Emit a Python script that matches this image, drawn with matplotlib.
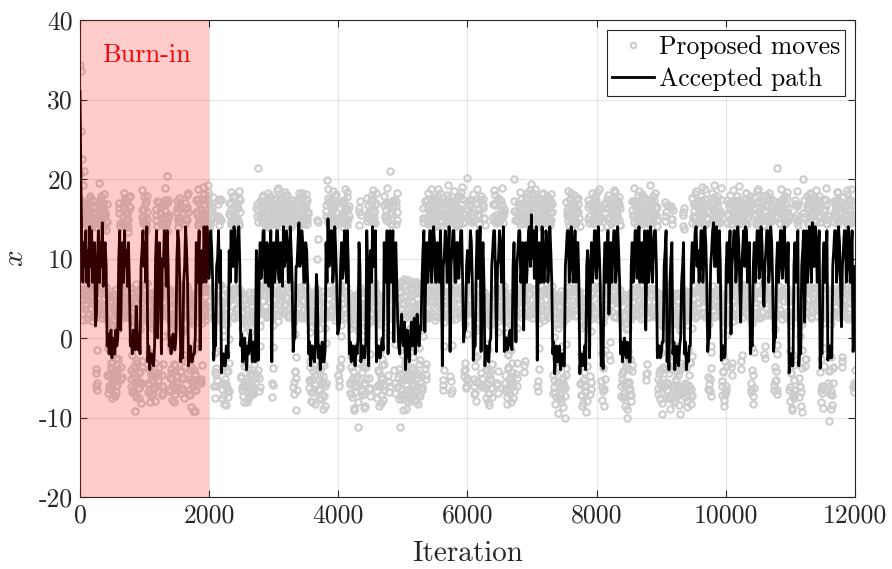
import numpy as np
import matplotlib
matplotlib.use("Agg")
import matplotlib.pyplot as plt
from matplotlib.ticker import FuncFormatter

plt.rcParams['font.family'] = ['cmr10', 'DejaVu Serif']
plt.rcParams['mathtext.fontset'] = 'cm'
plt.rcParams['axes.unicode_minus'] = False

# ---------------- data ----------------
path_step = 15      # iterations between accepted-path samples
prop_step = 10      # iterations between proposals in each proposal list

accepted_path = [
    31, 19, 11, 7, 12, 9, 13.5, 7, 11, 6.5, 14, 9, 13.5, 7, 10, 12, 1.5, 3, 10, 13.5,
    7, 12, 9, 14.5, 6.5, 11, 12, 9, -1, 0.5, -2, -0.5, 1, -2.5, 0, -1.5, -2, 1, -1, 0,
    10, 13.5, 1, 9, 12, 7, 13.5, 9, 11, 6.5, 12, 7, -1, 0, -2, 1, 0, -1.5, 4, 1,
    -1.5, 0.5, -2, 9, 11, 13.5, 9, 12, 7, 14, -3, -1, -4, -2, -2, -3, -3.5, -1, 10, 13.5,
    0, 9, 12, 7.5, -2, 10, 9, 13.5, 11, 6.5, 13.5, 9, -1, 0, -2, -0.5, 0.5, -1, -1.5, 0,
    10, 13.5, 12, 7, -3, -1, -2.5, 7, 9, 14, 11, 7, -3.5, -1.5, -1, -3, -3, -2, -2, 0,
    12, 7, 10, 13.5, -1.5, 9, 11, 7, 14, 9, 7, 14, 12, 7.5, 9, 13.5, 11, 7, -2.8, -1,
    -1, 9, 10, 13.5, 7, 11, -4.4, -2, -2, -3.5, -3.5, -1, -1, -2.5, 11, 7, 13.5, 9, 9, 14,
    12, 7, 10, 13.5, 14, 9, -1, 0.5, -3, -1, 0, -2.5, -4, -1, -2, 0, 1, -1.5, -3, -0.5,
    -1.5, -3, 11, 7, -2.8, 9, 12, 7.5, 9, 13.5, 13.5, 7, 7, 12, 11, 6.5, 10, 13.5, -3, 9,
    12, 7, 9, 13.5, 13.5, 7.5, 7, 12, 11, 6.5, 14, 9, 10, 13.5, 12, 7, 7, 14, 11, 7,
    -1.7, 0, 0, 9, 9, 12, 14.5, 9, 10, 13.5, 12, 7, 7, 12, 11, 7, -2, -0.5, -3.5, -1,
    -1, -2.5, -3, -1, 8, 6, -2.5, -1, -4, -2, -0.5, -3, -3, -1.5, 12, 7, 15, 9, 10, 13.5,
    13.5, 7, 9, 14, 11, 7, 0.5, 1, 2, 9, 12, 7.5, 9, 13.5, 11, 7, 13.5, 9, -2, -0.5,
    -3, -1, -1, -2.5, -3.5, -1, -2, 0, 12, 9, -3, -1, -1, -2.5, -2.5, -0.5, 13.5, 9, -3.5, 9,
    11, 7, 14, 9, 10, 13.5, -3, -1, -1, -2.5, -2.5, -1, 0, -1.5, 12, 7, 9, 13.5, -2, 9,
    13.5, 7, 10, 13.5, -0.5, 9, 12, 7, 2, -1, -2, 1, 3, 0, -1, 2, -4, -1, 1, -2,
    -3, 0, 2, -1, 0, 2.5, -2, 0, 3, 1, -1, 1.5, 1, 7, 11, 13.5, 0.8, 9, 12, 7,
    9, 13.5, 13.5, 7, 10, 14, 12, 7, 7, 12, 11, 7, 13.5, 9, -3.5, 9, 10, 13.5, 12, 7,
    9, 14, -1.7, 9, 11, 13.5, 13.5, 7, 7, 12, 12, 7.5, 10, 13.5, 13.5, 7, -0.5, 1, 1, 9,
    11, 7, 9, 13.5, 12, 7, -2.8, -1, -1, 9, 13.5, 7.5, 10, 14, -1.7, 9, 12, 7, -3.5, -1,
    -1, -2.5, -3, -0.5, 0, 9, 11, 13.5, 13.5, 7, -1.7, 9, 10, 13.5, 12, 7, 9, 14, -1.7, 0,
    0, -1.5, -1, 0.5, 1, -1, -1.5, 9, 12, 7, -0.5, 9, 11, 13.5, 13.5, 7, 9, 12, 1, 9,
    12, 7, 10, 13.5, 14, 9, 15.5, 10, 13.5, 7.5, 9, 14, -2.8, 9, 12, 7, 7, 14, 11, 7,
    10, 13.5, 12, 7, 9, 14, 11, 7, -2, -0.5, -4.5, -2, -1, -3, -3, -1, -4, -2, -2, -3.5,
    -3.5, 9, 11, 13.5, 13.5, 7, 9, 14, 12, 7, 10, 13.5, 7, 12, 12, 7, -4.5, -2, -2, -3.5,
    -3, -1, -4, 9, 11, 7, -2.5, 9, 12, 7, 9, 13.5, 13.5, 7.5, 10, 14, 11, 7, -3.5, -1,
    -3.9, 9, 12, 7, 9, 13.5, 3, 9, 12, 7, 10, 13.5, 13.5, 7, 9, 14, 11, 7, -2, -0.5,
    -3, -1, 0, -2, -2.5, -0.5, -1, -3, -3, 9, 12, 7, 9, 13.5, 13.5, 7.5, 11, 14, 7, 11,
    12, 7, 10, 13.5, 1, 9, 13.5, 7, 9, 14, 12, 7, 11, 13.5, 13.5, 9, -2.5, -1, -1, -2.5,
    -2, -0.5, -0.5, 9, 11, 13.5, -3, -1, -4, 7, 10, 12, -2, -0.5, -4, -2, -1, -3, -3.5, -1,
    0, 7, 9, 12, -2, -0.5, -4, -2, -3, -1, -1, 9, 12, 7, 10, 13.5, 14, 9, 11, 7,
    9, 13.5, 13.5, 7, 10, 14, 12, 7, -1.7, 0, 0, 9, 11, 13.5, 14.5, 9, 9, 14, 12, 7,
    13.5, 9, -2.8, -1, -1, -2.5, -2, 9, 12, 7, 10, 13.5, 0.5, 9, 11, 13.5, 13.5, 7, 9, 14,
    12, 7, 2, 9, 11, 13.5, 9, 14, 13.5, 7, 10, 12, -2, -0.5, -1, 9, 12, 7, 10, 13.5,
    13.5, 7.5, 9, 14, 12, 7, 4, 9, 11, 13.5, 13.5, 7, 9, 14, 12, 7, -1.7, 0, 0, 9,
    12, 7, 9, 13.5, 13.5, 7.5, 10, 14, 11, 7, 7, 12, -4.4, -2, -2, -3.5, -3.5, 9, 12, 7,
    10, 13.5, -3.5, -1, -2, 9, 11, 13.5, 2, 9, 13.5, 7, 10, 14, 12, 7, 14.5, 9, 9, 14,
    12, 7, 10, 13.5, -3.8, -1.5, -2, 9, 12, 7, 9, 13.5, -2.8, -1, -1, -2.5, -2.5, 9, 11, 13.5,
    13.5, 7, 9, 14, 12, 7, 1.4, 9, 11, 13.5, 13.5, 7, 9, 14, 12, 7, 10, 13.5, -1.7, 0,
    9,
]

# proposals at iterations 0, 10, 20, ...
proposed_moves_a = [
    34.3, 33.6, 26.0, 22.5, 19.3, 4.8, 21.0, 15.8, 3.6, 16.7, 5.2, 14.3, 14.6, 3.1, 17.2,
    17.9, 6.4, 13.9, 15.1, 4.4, 2.9, 16.3, 2.7, 14.9, 4.5, -3.9, -5.6, 13.8, 5.9, 16.0,
    19.5, 3.8, 15.4, 14.2, 6.6, 17.0, 16.8, 4.9, 3.5, 15.5, 2.8, 13.6, 3.9, -4.8, -1.2,
    2.2, -6.3, 5.1, 4.7, -5.5, -3.0, 1.6, -7.2, 3.4, 5.3, -4.1, -6.0, 3.0, -5.9, 1.1,
    15.7, 5.4, 14.5, 4.2, -3.6, 2.5, 16.6, 3.4, 18.3, 14.0, 6.1, 15.9, 17.4, 4.0, 13.3,
    15.0, 2.6, 16.5, 3.3, -5.1, -2.2, 5.6, -6.6, 0.8, 2.0, -9.2, 4.3, 6.8, -3.2, 1.9,
    3.7, -7.5, -4.4, 4.9, -5.8, 2.7, 18.6, 5.0, 14.7, 15.3, 3.9, 16.9, 13.6, 6.9, 17.8,
    2.8, -6.8, -1.7, 4.0, -8.1, 1.4, 1.3, -5.3, -7.0, 3.6, -6.4, 5.8, 16.2, 4.6, 14.1,
    5.2, -4.6, 2.3, 17.1, 3.2, 15.6, 3.1, -6.1, -3.3, 14.4, 5.6, 18.9, 16.0, 2.9, 13.5,
    20.4, 6.2, 15.1, 4.4, -5.0, 0.6, 2.5, -7.8, 3.8, 5.9, -4.3, -6.2, 1.8, -5.7, 2.9,
    15.8, 4.2, 14.0, 17.6, 6.7, 16.4, 3.5, -6.9, -2.6, 4.8, -4.9, 1.0, 14.3, 3.0, 16.2,
    16.5, 5.3, 18.2, 2.6, -7.0, -4.0, 5.0, -5.4, 3.2, 3.8, -9.2, -1.4, 4.1, -6.5, 2.0,
    17.3, 4.5, 15.2, 18.8, 2.7, 14.6, 3.4, -5.2, 4.6, 16.1, 5.8, 19.0, 18.1, 3.6, 15.7,
    14.9, 6.0, 17.5, 19.2, 4.7, 13.8, 16.7, 3.3, 15.0, 15.4, 5.5, 17.7, 3.0, -6.0, -1.9,
    5.4, -4.7, 2.4, 16.9, 3.7, 14.2, 15.2, 6.5, 17.4, 2.3, -7.6, 0.3, 4.6, -5.6, -3.6,
    3.2, -8.4, 1.7, 5.7, -4.2, -6.7, 17.0, 4.8, 15.5, 18.4, 2.8, 14.8, 15.9, 6.3, 16.6,
    17.8, 3.5, 14.0, 14.7, 5.1, 16.3, 18.5, 4.3, 15.8, 4.3, -5.0, 1.2, 2.7, -7.3, -2.9,
    5.1, -6.0, 3.6, 3.6, -8.0, -0.9, 1.9, -5.4, 4.7, 4.9, -7.1, -4.5, 3.3, -6.2, 2.1,
    5.8, -4.4, -2.0, 16.4, 5.2, 21.4, 3.9, -6.7, 1.5, 17.2, 3.1, 15.3, 15.6, 6.6, 18.0,
    16.8, 4.0, 14.5, 14.1, 2.6, 17.3, 18.2, 5.7, 15.9, 15.0, 3.8, 16.7, 4.0, -7.4, -1.1,
    17.5, 4.9, 14.3, 16.0, 2.9, 18.6, 18.9, 6.1, 15.4, 14.6, 3.4, 16.8, 17.7, 5.3, 14.9,
    16.2, 4.1, 18.4, 15.3, 6.8, 17.1, 18.0, 3.0, 15.0, 16.6, 5.6, 13.9, 17.4, 4.4, 16.3,
    3.7, -5.5, 2.2, 5.2, -9.0, -2.4, 16.5, 3.6, 14.7, 18.3, 6.4, 17.6, 15.1, 4.7, 16.0,
    17.9, 2.8, 14.4, 16.3, 5.4, 18.1, 14.8, 3.9, 15.6, 4.5, -6.3, 0.7, 2.9, -7.9, 3.5,
    5.5, -5.1, -3.4, 3.4, -8.3, 1.8, 6.0, 4.8, 12.5, 4.2, -6.6, -1.6, 2.4, -7.7, 2.6,
    5.0, -5.8, -4.8, 3.8, -8.6, 1.3, 16.7, 4.2, 19.9, 18.7, 5.9, 15.2, 17.3, 3.3, 16.9,
    15.8, 6.2, 18.5, 16.9, 4.6, 14.6, 18.1, 2.7, 15.7, 4.7, -4.6, 2.8, 5.9, -3.8, 0.2,
    17.0, 5.0, 15.5, 15.4, 3.7, 18.8, 16.4, 6.5, 14.2, 18.4, 4.3, 16.6, 3.1, -6.9, -2.3,
    4.8, -5.3, 1.6, 2.6, -8.8, 3.9, 5.3, -6.1, -5.0, 3.5, -11.2, 0.9, 15.9, 5.8, 17.2,
    4.1, -7.2, -1.8, 2.2, -5.7, 3.1, 5.6, -8.5, -3.1, 17.6, 4.0, 15.1, 3.6, -6.4, 2.0,
    16.8, 3.2, 18.0, 18.6, 5.5, 15.8, 15.2, 6.9, 17.0, 4.4, -7.5, -0.5, 2.8, -5.9, 3.3,
    5.1, -8.2, -2.7, 3.9, -6.0, 1.4, 17.8, 4.5, 15.3, 16.1, 2.9, 18.9, 4.6, -6.8, 0.4,
    21.0, 5.3, 15.9, 17.2, 3.5, 16.5, 5.0, -5.6, 2.7, 16.6, 6.3, 18.2, 6.5, -4.9, 3.0,
    5.8, -11.2, 1.9, 7.2, -6.4, -2.1, 4.3, -7.0, 5.4, 2.5, -8.9, -3.8, 6.1, -5.2, 1.1,
    3.7, -7.8, -4.6, 7.0, -5.0, 2.5, 5.4, -6.7, -1.3, 2.9, -8.1, 4.1, 6.8, -4.5, 0.5,
    4.0, -7.3, -2.8, 5.7, -6.2, 3.7, 16.3, 4.9, 15.0, 4.9, -4.7, 6.5, 17.4, 3.1, 18.3,
    15.5, 5.7, 16.1, 18.8, 4.2, 14.7, 16.0, 6.6, 17.5, 17.7, 2.8, 15.4, 15.0, 5.1, 18.7,
    16.9, 3.9, 14.1, 18.2, 6.0, 16.4, 4.1, -6.5, -1.0, 17.1, 4.7, 15.7, 15.7, 3.0, 18.0,
    19.3, 5.9, 16.2, 3.5, -5.4, 2.3, 16.6, 4.4, 14.9, 18.5, 6.4, 17.2, 15.3, 3.4, 16.0,
    17.9, 5.2, 14.4, 16.2, 2.7, 18.4, 19.0, 4.8, 15.6, 4.6, -4.8, 1.7, 5.7, -6.1, 3.2,
    20.1, 3.6, 16.8, 17.3, 5.5, 14.6, 15.8, 6.7, 18.1, 3.2, -7.1, -2.5, 4.8, -5.5, 1.0,
    18.7, 4.1, 15.3, 16.4, 3.0, 17.4, 4.3, -6.2, 2.6, 17.5, 5.8, 15.1, 2.7, -7.6, -0.8,
    5.2, -5.8, 3.6, 3.6, -8.4, -4.1, 4.5, -6.3, 1.9, 16.8, 4.6, 18.6, 18.0, 2.9, 15.5,
    4.0, -5.9, 2.1, 17.6, 6.1, 14.8, 15.4, 3.7, 16.7, 18.9, 5.0, 15.9, 3.8, -6.6, 0.6,
    5.5, -7.4, -2.2, 2.9, -5.2, 4.4, 4.7, -8.0, -1.5, 3.3, -6.0, 2.8, 20.0, 4.3, 16.0,
    5.0, -5.0, 1.3, 17.0, 5.4, 15.2, 18.4, 3.2, 16.9, 15.6, 6.5, 14.5, 4.9, -4.3, 6.2,
    17.7, 4.8, 18.3, 16.1, 2.8, 15.4, 18.6, 5.6, 17.0, 19.4, 3.9, 16.3, 17.2, 6.2, 18.8,
    15.9, 4.5, 14.0, 3.7, -6.7, -1.2, 17.4, 5.3, 16.5, 16.0, 3.5, 18.1, 18.3, 6.0, 15.0,
    15.2, 4.0, 17.3, 17.9, 2.7, 16.2, 16.7, 5.7, 14.6, 18.1, 4.6, 15.8, 4.2, -6.9, 0.1,
    2.6, -8.3, 3.4, 5.3, -5.6, -3.7, 3.9, -7.7, 1.8, 4.6, -6.2, -5.1, 2.8, -8.7, 2.4,
    5.1, -10.0, -0.7, 17.1, 4.9, 15.6, 18.5, 3.3, 16.8, 15.7, 6.3, 18.2, 16.9, 4.2, 14.3,
    18.0, 2.9, 15.9, 16.4, 5.8, 17.5, 17.6, 4.4, 15.1, 3.4, -7.2, -2.0, 5.0, -8.5, 1.6,
    2.7, -6.0, 3.8, 4.4, -9.3, -3.5, 17.3, 5.1, 15.4, 3.6, -7.0, 0.9, 18.2, 4.0, 16.6,
    16.0, 6.6, 14.8, 17.8, 3.1, 18.4, 15.5, 5.5, 16.1, 18.7, 4.7, 15.2, 4.1, -7.8, -1.9,
    2.5, -6.4, 2.7, 17.0, 5.9, 16.3, 16.5, 3.4, 18.0, 6.3, -2.8, 4.8, 17.5, 4.3, 15.7,
    16.2, 6.1, 18.6, 18.4, 2.8, 15.0, 15.8, 5.2, 17.1, 17.7, 4.5, 16.4, 3.3, -7.3, -0.4,
    5.2, -5.7, 2.9, 2.9, -8.6, -3.2, 4.7, -10.0, 1.2, 3.8, -6.5, -2.6, 5.6, -7.9, 3.5,
    17.2, 4.6, 15.5, 18.9, 3.0, 16.7, 16.3, 6.4, 14.2, 17.9, 4.9, 18.5, 15.4, 3.6, 16.0,
    18.1, 5.8, 15.3, 16.6, 4.1, 17.6, 5.1, -5.3, 3.9, 17.4, 6.0, 15.8, 19.3, 3.2, 16.9,
    16.1, 5.4, 14.6, 17.8, 4.4, 18.2, 15.6, 2.7, 16.5, 4.0, -7.0, -1.4, 5.4, -5.5, 2.3,
    3.1, -8.2, -3.9, 4.9, -6.1, 1.5, 17.1, 5.6, 15.9, 3.7, -7.6, -0.2, 2.4, -8.9, 3.1,
    16.4, 4.7, 14.4, 5.0, -6.3, -2.4, 3.2, -7.8, 2.0, 4.6, -5.9, -4.7, 2.8, -8.4, 1.0,
    5.3, -6.6, 3.3, 15.8, 4.0, 13.7, 3.5, -7.4, -1.7, 4.8, -8.7, 2.6, 2.6, -6.0, -3.0,
    5.5, -7.1, 1.3, 17.6, 4.9, 15.4, 16.0, 3.3, 18.1, 18.5, 6.2, 16.6, 17.2, 4.4, 14.9,
    15.9, 5.7, 17.8, 19.0, 3.0, 15.5, 16.7, 4.6, 18.7, 17.5, 6.5, 15.1, 4.3, -6.4, 1.8,
    5.8, -5.1, -1.0, 18.3, 4.1, 16.2, 19.3, 5.3, 15.7, 16.2, 2.9, 17.3, 17.9, 6.0, 14.5,
    15.6, 4.7, 18.9, 3.6, -7.2, -2.3, 5.1, -8.5, 2.2, 2.9, -6.1, 0.4, 17.3, 5.0, 15.3,
    16.5, 3.6, 18.0, 5.6, -4.6, 3.0, 18.6, 4.8, 16.4, 16.1, 6.3, 15.0, 17.8, 3.2, 17.4,
    19.1, 5.5, 15.8, 6.0, -3.9, 4.5, 17.0, 4.2, 16.9, 15.7, 6.7, 18.3, 18.2, 3.4, 15.2,
    16.6, 5.1, 17.0, 3.9, -6.8, -1.3, 5.2, -8.3, 2.5, 17.7, 4.5, 15.6, 16.3, 2.8, 18.5,
    18.8, 5.9, 16.1, 15.5, 4.0, 14.7, 17.4, 6.4, 17.9, 6.6, -2.5, 5.2, 18.0, 4.9, 15.4,
    16.8, 3.1, 18.2, 17.6, 5.6, 16.0, 15.9, 4.3, 17.3, 4.1, -6.6, 1.1, 5.7, -5.3, -2.0,
    21.4, 5.2, 16.7, 17.1, 3.5, 15.1, 18.7, 6.1, 17.6, 16.4, 4.6, 15.9, 17.9, 2.9, 18.4,
    15.8, 5.4, 16.3, 3.0, -7.9, -1.6, 4.6, -8.8, 2.8, 2.7, -6.5, -3.4, 17.3, 4.8, 15.5,
    18.5, 3.7, 16.8, 4.4, -7.4, 0.3, 5.3, -8.6, 2.1, 20.0, 5.7, 15.2, 6.1, -3.5, 4.2,
    17.8, 4.1, 16.5, 16.2, 6.0, 18.1, 18.3, 3.3, 15.7, 17.0, 5.0, 17.4, 15.6, 4.5, 16.0,
    18.6, 2.8, 15.3, 16.9, 5.8, 17.9, 3.4, -8.1, -2.7, 5.0, -6.3, 1.9, 17.5, 4.3, 16.2,
    18.9, 6.2, 15.0, 3.8, -10.5, -1.1, 5.5, -7.0, 2.6, 2.9, -8.4, -3.8, 17.2, 4.7, 15.8,
    16.0, 3.0, 18.4, 18.4, 5.5, 16.6, 15.7, 6.4, 17.1, 5.9, -3.6, 4.0, 17.7, 4.2, 15.4,
    16.5, 2.7, 18.6, 18.1, 5.3, 16.0, 17.4, 3.8, 15.1, 18.8, 6.1, 17.2, 4.2, -5.7, -5.9,
]

# proposals at iterations 5, 15, 25, ...
proposed_moves_b = [
    20.8, 16.1, 5.0, 17.0, 3.2, 14.5, 14.9, 6.0, 16.3, 16.1, 2.4, 15.0, 13.9, 4.8, 17.6,
    15.5, 3.6, 6.9, 17.3, 5.9, 14.2, 14.5, 2.9, 16.6, 2.6, -6.1, -1.5, 16.9, 4.2, 15.3,
    14.4, 6.3, 17.8, 16.0, 3.0, 13.8, 18.1, 5.0, 15.7, 14.7, 2.5, 16.8, 5.5, -6.9, 2.0,
    3.1, -4.5, -3.2, 4.4, -7.6, 0.9, 2.1, -5.1, 4.0, 6.0, -6.8, -2.5, 1.4, -3.9, 3.6,
    16.4, 3.9, 14.1, 5.8, -4.9, 3.0, 14.3, 5.2, 17.1, 17.6, 2.8, 15.6, 15.0, 6.5, 14.0,
    16.6, 4.3, 17.9, 4.6, -6.2, -0.3, 2.4, -4.4, 3.9, 5.3, -7.0, -2.8, 3.4, -5.5, 5.6,
    6.1, -6.3, 1.1, 2.0, -8.2, -3.6, 15.2, 3.5, 16.2, 17.7, 6.2, 14.4, 14.2, 2.7, 15.8,
    4.9, -5.9, 1.7, 2.5, -7.3, -2.1, 5.7, -4.8, 3.3, 3.0, -7.9, -4.9, 14.8, 5.6, 17.2,
    2.7, -6.0, 4.8, 15.9, 4.9, 14.6, 5.1, -7.2, 0.2, 16.7, 3.4, 13.9, 14.4, 6.4, 17.0,
    17.4, 2.6, 15.5, 3.2, -6.7, -1.3, 5.6, -5.0, 2.8, 2.3, -8.0, -3.4, 4.3, -6.6, 1.5,
    17.2, 5.3, 15.1, 14.6, 2.9, 16.9, 5.0, -5.2, 0.8, 2.8, -7.6, -2.2, 16.2, 4.5, 14.8,
    18.0, 6.0, 15.9, 4.7, -6.5, 2.2, 2.1, -8.7, -1.8, 5.4, -5.4, 3.7, 3.5, -9.2, -0.6,
    15.6, 3.1, 14.3, 17.0, 5.7, 16.4, 5.9, -5.6, 1.9, 14.9, 2.8, 17.5, 16.8, 6.3, 15.2,
    15.3, 4.0, 18.4, 17.8, 3.3, 14.7, 14.5, 5.9, 16.0, 16.3, 2.5, 15.1, 4.8, -7.5, 2.4,
    2.6, -5.3, -1.6, 15.4, 4.9, 17.3, 17.5, 3.0, 14.9, 4.1, -6.4, 1.0, 6.2, -8.3, -2.4,
    2.9, -5.8, 3.8, 4.5, -7.4, -0.1, 16.0, 5.4, 14.5, 14.7, 2.7, 17.7, 17.9, 6.1, 15.4,
    15.1, 3.8, 16.3, 16.9, 5.1, 14.2, 14.3, 2.6, 17.4, 5.6, -6.2, 2.5, 3.3, -8.1, -1.5,
    4.9, -5.1, 4.2, 2.2, -7.7, -3.9, 5.8, -6.4, 0.7, 3.1, -4.6, 2.9, 4.6, -7.0, -2.6,
    2.5, -5.7, 3.6, 15.3, 4.5, 16.1, 5.4, -5.0, -1.0, 16.5, 6.2, 14.7, 17.7, 3.4, 15.6,
    14.6, 5.5, 16.9, 16.2, 2.8, 13.9, 15.0, 4.7, 17.8, 17.2, 6.6, 14.8, 3.0, -5.9, 1.6,
    15.7, 3.6, 16.5, 14.2, 5.8, 17.6, 16.8, 2.9, 15.0, 17.5, 4.6, 14.1, 15.2, 6.3, 16.7,
    16.4, 3.1, 18.0, 14.8, 5.2, 15.5, 17.1, 2.6, 16.2, 15.5, 4.3, 14.4, 16.0, 6.7, 17.3,
    5.1, -7.1, 0.5, 2.9, -5.0, 3.2, 17.4, 5.0, 15.3, 15.8, 2.7, 16.6, 14.4, 6.0, 18.2,
    16.6, 3.7, 14.9, 15.1, 5.6, 17.0, 17.3, 4.1, 15.8, 2.4, -5.4, -2.9, 4.7, -8.0, 1.4,
    3.0, -6.8, 4.3, 5.4, -4.7, -1.9, 9.9, 5.2, 14.6, 2.7, -7.5, 1.2, 4.5, -5.6, -3.1,
    3.3, -8.9, 2.7, 5.9, -6.1, -0.6, 15.3, 3.2, 17.1, 17.6, 5.7, 14.3, 14.6, 2.8, 16.4,
    16.9, 6.2, 15.2, 15.2, 4.0, 17.9, 17.0, 3.5, 14.8, 3.9, -5.3, 6.4, 6.8, -2.6, 1.6,
    15.6, 4.4, 14.0, 17.3, 2.6, 16.1, 14.5, 5.9, 17.7, 16.2, 3.3, 15.4, 5.2, -5.8, 1.3,
    2.3, -7.4, -2.2, 4.8, -9.0, 3.0, 3.4, -6.0, -1.0, 5.5, -8.1, 2.4, 14.2, 4.1, 15.5,
    2.9, -6.7, 0.3, 5.0, -8.8, -3.5, 3.6, -5.1, 2.6, 15.4, 5.3, 16.7, 4.9, -7.3, -2.0,
    17.5, 3.9, 14.6, 14.9, 6.4, 16.0, 16.7, 2.7, 18.3, 5.7, -6.1, 1.8, 3.2, -8.6, -1.7,
    4.4, -4.9, 3.4, 2.6, -7.8, -3.3, 15.2, 3.4, 17.0, 17.1, 5.9, 14.7, 3.1, -5.5, 2.9,
    15.8, 4.4, 16.6, 14.3, 2.9, 17.4, 5.6, -6.9, -0.7, 17.2, 4.9, 14.9, 4.2, -7.7, 5.9,
    6.6, -5.5, -1.1, 3.6, -9.1, 2.3, 7.4, -4.2, -3.3, 5.1, -6.6, 4.6, 2.8, -8.0, -0.4,
    6.3, -5.1, 3.1, 4.5, -7.2, -2.4, 7.0, -4.6, 1.6, 3.1, -6.9, 5.0, 5.9, -8.3, -1.2,
    4.2, -5.7, 2.4, 6.4, -6.5, 0.3, 15.1, 3.3, 17.2, 6.9, -3.3, 2.6, 16.3, 5.1, 14.4,
    14.6, 2.8, 17.0, 17.4, 6.0, 15.7, 15.0, 3.9, 16.4, 16.6, 5.3, 14.1, 14.2, 2.6, 17.8,
    17.1, 4.6, 15.4, 15.7, 6.5, 16.8, 5.3, -5.3, 2.0, 16.8, 3.6, 14.7, 14.5, 5.8, 17.2,
    17.6, 2.7, 15.6, 5.7, -6.9, -0.9, 15.4, 4.8, 16.4, 16.9, 3.1, 14.3, 14.1, 6.2, 17.6,
    16.4, 4.4, 15.0, 17.8, 5.7, 16.9, 15.1, 2.9, 14.5, 6.1, -3.9, 3.1, 3.9, -5.3, 0.5,
    16.2, 4.0, 14.8, 14.7, 6.3, 17.3, 17.4, 3.2, 15.5, 5.0, -6.0, 1.3, 2.8, -7.9, -2.3,
    15.6, 5.4, 16.2, 14.3, 2.6, 17.8, 5.6, -5.0, -1.1, 16.7, 4.3, 14.2, 4.4, -6.3, 2.7,
    2.6, -8.1, -1.4, 5.3, -5.2, 3.9, 3.7, -7.4, -3.3, 15.2, 3.5, 16.9, 16.9, 5.9, 14.5,
    5.2, -6.9, 0.8, 14.6, 4.7, 17.4, 17.2, 2.8, 15.7, 15.4, 6.1, 16.2, 2.9, -5.6, 3.4,
    4.8, -8.3, -2.0, 3.4, -6.4, 1.8, 5.7, -4.9, -3.1, 2.5, -7.6, 2.9, 16.0, 5.6, 14.9,
    3.6, -6.1, 4.8, 15.8, 3.0, 16.9, 14.4, 6.4, 17.5, 17.0, 4.5, 15.3, 6.4, -2.9, 3.9,
    15.5, 3.3, 14.6, 17.3, 5.4, 16.5, 14.8, 2.9, 18.1, 16.4, 6.1, 15.0, 15.1, 4.2, 17.1,
    17.6, 3.1, 14.7, 5.4, -5.4, 1.9, 15.0, 4.8, 17.0, 16.9, 2.7, 14.5, 14.6, 6.2, 16.1,
    17.1, 3.7, 15.5, 15.3, 5.5, 17.6, 16.5, 3.0, 14.2, 14.9, 6.6, 16.8, 5.5, -5.3, 2.6,
    3.5, -7.4, -2.5, 4.7, -9.4, 1.2, 2.6, -6.0, 3.9, 5.9, -8.0, -1.0, 3.2, -5.6, 2.2,
    4.3, -7.3, -3.8, 15.5, 3.4, 16.3, 14.2, 5.8, 17.5, 17.0, 2.9, 15.1, 15.6, 4.6, 14.4,
    16.5, 6.3, 17.3, 14.7, 3.5, 15.8, 16.9, 5.1, 14.1, 4.6, -5.7, 1.3, 2.9, -8.2, -2.6,
    5.6, -6.7, 3.0, 3.3, -7.9, -0.8, 15.0, 3.9, 16.8, 5.1, -5.5, 2.4, 16.3, 5.5, 14.5,
    14.5, 2.7, 17.2, 17.3, 4.3, 15.6, 15.2, 6.4, 16.4, 16.6, 3.1, 14.0, 3.0, -6.2, 2.0,
    5.4, -8.6, -1.5, 15.7, 4.2, 17.5, 14.1, 5.6, 15.2, 6.7, -0.5, 7.2, 16.1, 3.3, 14.6,
    14.8, 5.8, 17.1, 17.2, 2.6, 15.3, 15.3, 4.4, 16.6, 16.8, 6.0, 14.2, 4.7, -5.2, 2.1,
    2.7, -7.6, -2.8, 5.4, -6.0, 1.1, 3.5, -8.9, -1.6, 4.9, -5.5, 3.3, 2.4, -7.2, -3.4,
    15.3, 3.8, 17.2, 14.6, 5.3, 15.0, 17.1, 2.9, 16.3, 15.8, 6.1, 14.4, 16.4, 4.0, 17.7,
    14.3, 2.7, 15.6, 17.5, 5.6, 16.0, 6.2, -4.4, 2.6, 15.1, 3.5, 14.7, 16.6, 6.2, 17.4,
    14.8, 2.8, 15.8, 17.3, 4.7, 16.4, 15.5, 5.9, 14.1, 5.6, -5.1, 2.8, 3.0, -7.7, -1.9,
    4.8, -9.5, 1.5, 2.7, -6.2, 3.7, 15.3, 3.9, 16.7, 5.2, -5.6, 1.2, 3.9, -7.5, -2.8,
    15.0, 5.6, 16.1, 2.6, -8.0, 2.1, 5.5, -5.4, -1.0, 3.7, -7.2, 3.2, 4.6, -9.6, -3.2,
    2.3, -6.3, 1.7, 14.1, 5.0, 16.3, 5.0, -5.9, 2.3, 3.3, -7.9, -1.4, 5.8, -6.7, 3.6,
    2.8, -8.3, -2.3, 15.2, 3.6, 16.9, 17.0, 5.9, 14.4, 14.6, 2.8, 17.2, 16.3, 4.5, 15.4,
    15.0, 6.5, 16.6, 17.4, 3.2, 14.2, 14.5, 5.0, 17.5, 16.8, 2.6, 15.0, 3.5, -5.8, 2.9,
    5.9, -7.3, -1.7, 14.9, 3.5, 17.0, 17.7, 5.5, 15.2, 15.3, 2.9, 16.5, 16.4, 6.1, 14.5,
    14.7, 4.2, 17.3, 5.1, -5.4, 1.4, 2.6, -7.8, -2.9, 4.8, -6.6, 3.1, 15.6, 3.3, 16.8,
    17.0, 5.4, 14.3, 6.5, -3.2, 2.2, 14.4, 4.6, 17.1, 16.7, 2.8, 15.5, 15.1, 6.0, 16.2,
    17.3, 3.9, 14.6, 6.8, -2.2, 3.5, 15.4, 5.2, 17.4, 14.2, 3.0, 16.0, 16.9, 6.3, 15.1,
    15.6, 4.1, 17.8, 4.9, -5.6, 1.9, 2.5, -7.3, -1.8, 16.2, 5.6, 14.4, 14.8, 3.3, 17.0,
    17.2, 4.9, 15.3, 15.0, 2.7, 16.7, 16.5, 6.2, 14.1, 7.1, -1.0, 8.0, 15.3, 3.6, 17.3,
    17.6, 5.2, 15.0, 14.7, 2.9, 16.4, 16.3, 6.0, 14.8, 5.3, -5.4, 2.7, 3.1, -7.0, -0.9,
    15.8, 4.3, 17.1, 14.3, 6.4, 15.6, 17.0, 3.0, 16.2, 15.5, 5.5, 14.5, 16.8, 2.6, 17.6,
    14.9, 4.7, 15.2, 4.7, -6.2, 1.6, 2.9, -9.0, -2.1, 5.5, -7.5, 3.2, 15.1, 3.4, 16.6,
    16.6, 5.9, 14.2, 2.6, -6.0, 2.3, 4.9, -9.3, -1.5, 15.7, 4.5, 17.3, 6.9, -2.7, 3.3,
    14.6, 3.1, 16.1, 17.4, 5.6, 15.4, 15.2, 2.8, 14.0, 16.3, 6.3, 17.7, 14.8, 4.2, 15.9,
    17.1, 3.5, 16.4, 15.4, 5.4, 14.6, 5.2, -6.6, 2.5, 3.0, -8.8, -1.2, 16.0, 3.9, 17.4,
    14.5, 6.0, 15.3, 5.0, -6.1, 2.4, 2.7, -8.9, -2.4, 4.5, -5.7, 3.4, 15.7, 3.2, 16.9,
    17.3, 5.7, 14.6, 14.4, 2.9, 17.2, 16.5, 4.8, 15.1, 6.6, -2.9, 3.6, 15.3, 3.6, 16.6,
    17.0, 6.2, 14.3, 14.6, 4.4, 17.5, 16.2, 2.7, 15.6, 15.0, 5.8, 16.9, 4.8, -6.8, 1.0,
]

# proposals at iterations 3, 13, 23, ...
proposed_moves_c = [
    17.5, 5.8, 14.6, 15.3, 2.3, 6.2, 16.8, 4.1, 14.9, 14.7, 5.5, 6.6, 17.1, 3.0, 15.2,
    15.9, 6.1, 5.4, 14.4, 2.2, 15.7, 16.5, 4.6, 6.0, -4.4, 3.8, -6.6, 15.0, 3.4, 14.3,
    17.3, 5.7, 6.4, 14.9, 2.5, 15.5, 16.2, 4.0, 5.6, 15.6, 6.4, 14.6, -4.6, 2.2, -6.4,
    -6.1, 4.7, -3.8, -3.7, 1.5, -5.9, -5.6, 5.5, -4.2, -7.3, 3.1, -5.0, -4.9, 4.2, -2.6,
    17.0, 2.9, 6.7, -5.2, 3.5, 5.4, 15.4, 4.4, 14.2, 16.3, 6.5, 5.9, 14.6, 2.6, 15.9,
    17.7, 5.1, 6.3, -4.0, 2.5, -6.8, -6.5, 4.9, -3.5, -5.0, 1.9, -7.4, -3.8, 5.9, -5.4,
    -6.3, 3.3, -4.1, -5.5, 4.5, -2.9, 16.1, 6.0, 14.5, 14.8, 2.4, 6.8, 17.2, 4.8, 15.0,
    -5.7, 2.9, -3.9, -7.1, 5.3, -4.7, -4.3, 1.8, -6.2, -6.0, 4.1, -3.2, 15.5, 3.2, 6.1,
    -5.3, 5.6, -3.6, 16.6, 2.8, 14.4, -4.7, 3.6, -6.9, 15.1, 5.3, 6.5, 17.4, 3.9, 15.3,
    14.5, 6.2, 5.7, -6.4, 2.1, -4.4, -3.9, 4.6, -5.8, -5.9, 1.6, -3.3, -7.0, 3.9, -4.8,
    16.4, 2.5, 14.7, 15.2, 5.0, 6.2, -4.1, 3.0, -6.3, -6.6, 5.1, -3.7, 17.0, 3.5, 15.1,
    14.9, 6.6, 5.5, -5.1, 2.4, -7.2, -3.6, 4.3, -5.5, -6.2, 1.7, -4.0, -4.5, 5.2, -6.5,
    15.8, 3.6, 14.2, 17.5, 5.9, 6.6, -5.4, 2.7, -3.4, 14.7, 4.2, 15.6, 16.7, 2.3, 6.0,
    15.3, 6.3, 14.5, 17.2, 4.7, 5.8, 14.4, 3.1, 15.8, 16.0, 5.4, 6.4, -6.1, 3.4, -4.3,
    -3.8, 5.0, -6.0, 17.3, 2.6, 14.9, 15.0, 4.5, 6.7, -5.8, 1.9, -3.9, -7.2, 4.4, -5.1,
    -4.2, 2.6, -6.7, -6.3, 5.7, -3.1, 15.6, 3.3, 14.3, 16.9, 6.0, 5.6, 14.5, 2.5, 15.4,
    16.4, 4.9, 6.3, 15.1, 3.7, 14.8, 17.6, 5.6, 6.0, -4.8, 2.3, -6.5, -6.0, 4.8, -3.5,
    -3.7, 1.6, -5.7, -5.5, 3.7, -7.0, -7.4, 5.4, -4.6, -4.4, 2.8, -6.1, -6.7, 4.0, -3.3,
    -5.0, 1.8, -4.9, 16.8, 5.9, 14.6, -4.0, 3.4, -6.2, 15.4, 2.4, 6.5, 14.6, 4.6, 15.7,
    17.2, 6.4, 5.9, 15.7, 3.0, 14.4, 16.3, 5.2, 6.2, 14.8, 2.7, 15.2, -5.6, 4.9, -3.8,
    16.9, 3.8, 6.6, 15.3, 5.7, 14.5, 14.5, 2.2, 5.7, 16.2, 4.3, 15.5, 17.4, 6.1, 6.1,
    15.0, 3.5, 14.8, 16.7, 5.1, 6.4, 14.3, 2.8, 15.9, 17.0, 4.6, 5.8, 15.5, 6.3, 14.3,
    -6.2, 2.6, -4.1, -4.3, 4.7, -6.6, 16.1, 3.1, 15.0, 14.7, 5.4, 6.3, 17.5, 2.5, 14.6,
    15.2, 4.8, 6.7, 16.6, 6.5, 15.3, 14.4, 3.6, 5.9, -5.3, 2.0, -3.6, -6.8, 5.0, -5.2,
    -4.1, 3.3, -6.4, -5.9, 1.7, -3.9, 14.8, 6.2, 5.1, -6.5, 4.1, -4.5, -3.9, 2.4, -7.0,
    -5.4, 5.3, -3.4, -7.3, 3.0, -5.7, 16.0, 2.6, 14.7, 14.6, 5.0, 6.5, 17.1, 3.7, 15.6,
    15.6, 6.0, 5.8, 16.5, 2.3, 14.2, 14.9, 4.9, 6.2, -4.7, 3.9, -6.0, 6.4, -3.5, 5.0,
    17.2, 3.0, 15.1, 14.5, 5.6, 6.6, 16.3, 2.5, 14.9, 15.0, 4.3, 5.6, -5.5, 2.2, -3.7,
    -7.0, 4.6, -5.0, -4.2, 1.8, -6.8, -6.1, 3.8, -3.2, -4.9, 5.5, -5.9, 16.4, 3.2, 6.3,
    -6.4, 2.7, -4.3, -3.7, 4.4, -7.1, -5.8, 1.5, -3.6, 14.7, 5.9, 15.7, -5.0, 3.2, -6.3,
    16.0, 2.4, 6.0, 17.3, 4.7, 14.6, 14.5, 6.3, 5.5, -6.7, 2.9, -4.0, -4.3, 4.8, -5.6,
    -7.2, 1.9, -3.4, -5.1, 5.3, -6.5, 16.7, 3.8, 15.2, 14.8, 5.5, 6.4, -4.6, 2.5, -6.1,
    17.0, 4.1, 14.4, 15.6, 6.1, 5.8, -4.0, 3.3, -5.7, 14.4, 2.6, 15.8, -6.0, 5.8, -3.9,
    -4.5, 7.0, -7.3, -7.7, 4.4, -5.2, -5.3, 6.6, -3.0, -6.9, 3.5, -4.8, -4.1, 7.3, -6.4,
    -7.5, 5.2, -3.7, -5.7, 6.1, -6.0, -3.9, 4.0, -7.8, -6.6, 7.1, -4.4, -5.0, 5.6, -3.3,
    -7.1, 3.7, -5.5, -4.7, 6.8, -6.2, 14.6, 5.2, 6.0, -3.8, 5.9, -5.1, 17.4, 2.5, 15.0,
    15.3, 4.6, 6.5, 16.4, 3.0, 14.3, 14.5, 5.9, 5.7, 17.1, 2.3, 15.6, 15.8, 4.8, 6.2,
    16.2, 6.4, 14.7, 14.7, 3.4, 5.9, -5.9, 2.8, -4.0, 15.5, 5.3, 6.6, 17.2, 2.7, 14.5,
    14.9, 4.4, 15.8, -4.8, 3.6, -6.6, 16.9, 6.1, 6.1, 15.2, 2.4, 14.9, 16.5, 4.9, 5.6,
    14.3, 3.3, 15.4, 15.9, 5.7, 6.4, 17.5, 2.6, 14.6, -4.2, 5.0, -3.1, -6.3, 2.9, -5.0,
    15.0, 4.3, 6.3, 16.6, 6.5, 15.5, 14.6, 3.1, 5.8, -5.1, 4.2, -3.5, -6.9, 1.9, -5.4,
    17.0, 5.1, 14.4, 15.4, 2.5, 6.7, -4.4, 3.5, -6.0, 16.3, 5.8, 15.1, -6.2, 2.3, -3.9,
    -4.0, 4.9, -6.9, -7.0, 1.6, -4.6, -5.3, 5.4, -3.3, 14.8, 3.6, 6.0, 16.7, 5.5, 14.7,
    -5.6, 2.7, -4.2, 15.2, 4.0, 5.7, 16.1, 6.3, 15.4, 14.5, 2.4, 6.5, -4.7, 4.6, -6.3,
    -6.5, 2.2, -3.6, -3.9, 5.2, -5.6, -7.1, 3.1, -4.3, -5.4, 1.7, -6.7, 17.2, 3.0, 14.9,
    -4.5, 5.6, -3.2, 14.7, 4.5, 6.2, 16.5, 2.6, 15.6, 15.3, 5.9, 5.9, -3.4, 4.8, 6.6,
    16.8, 2.9, 14.3, 14.6, 6.4, 6.4, 17.0, 4.2, 15.2, 15.7, 2.5, 16.3, 18.1, 5.4, 6.0,
    14.9, 3.3, 14.8, -6.0, 2.4, -3.9, 16.2, 5.6, 6.6, 14.4, 3.8, 15.4, 17.3, 2.3, 5.7,
    15.5, 4.9, 14.6, 16.4, 6.2, 6.3, 14.8, 2.7, 15.9, 17.1, 4.4, 5.8, -4.6, 3.1, -6.2,
    -6.8, 5.0, -4.1, -3.8, 1.8, -5.5, -5.7, 4.2, -7.2, -7.5, 2.6, -3.4, -4.9, 5.5, -6.0,
    -6.3, 3.4, -4.7, 16.0, 2.5, 6.4, 14.7, 5.3, 15.1, 17.4, 3.7, 5.9, 15.2, 6.1, 14.3,
    16.6, 2.8, 6.1, 14.5, 4.6, 15.7, 15.8, 5.9, 5.5, -5.8, 2.1, -3.7, -7.2, 4.5, -5.3,
    -4.3, 1.7, -6.8, -6.1, 5.2, -3.5, 16.5, 2.9, 14.5, -4.8, 3.9, -6.4, 14.6, 5.7, 6.6,
    17.0, 3.4, 15.3, 15.5, 6.3, 5.8, 16.3, 2.4, 14.8, 14.8, 4.8, 6.3, -5.4, 2.7, -3.8,
    -6.7, 4.3, -5.1, 16.9, 3.1, 15.0, 15.1, 6.0, 6.0, -2.2, 5.4, 6.9, 14.4, 5.0, 14.6,
    16.7, 2.6, 6.5, 15.4, 4.5, 15.8, 17.3, 6.4, 5.6, 14.9, 3.2, 14.2, -6.0, 2.3, -4.5,
    -4.2, 5.1, -6.9, -7.3, 1.9, -3.6, -5.5, 4.7, -5.8, -3.9, 2.5, -7.0, -6.4, 5.6, -4.2,
    16.1, 2.8, 6.2, 14.6, 5.2, 15.4, 17.2, 3.9, 5.7, 15.0, 6.2, 14.7, 16.5, 2.4, 6.6,
    14.8, 4.7, 15.6, 15.9, 3.1, 5.9, -4.5, 5.8, -3.3, 16.8, 2.6, 14.4, 14.5, 5.5, 6.3,
    17.0, 3.6, 15.2, 15.6, 6.1, 5.6, 16.3, 2.9, 14.8, -6.3, 3.7, -4.4, -4.0, 1.7, -6.1,
    -6.9, 4.9, -3.7, -5.2, 2.6, -5.6, 14.7, 4.3, 6.4, -6.6, 2.2, -3.9, -4.4, 5.4, -7.2,
    16.6, 3.0, 15.0, -5.9, 4.1, -3.4, -7.4, 1.8, -5.2, -4.1, 5.7, -6.5, -6.2, 3.2, -4.0,
    -3.7, 2.1, -6.9, 15.5, 5.9, 6.1, -5.6, 3.6, -3.6, -7.0, 1.6, -5.9, -4.6, 4.6, -3.2,
    -6.4, 2.8, -7.3, 14.5, 5.8, 6.5, 16.8, 2.5, 14.6, 15.3, 4.4, 5.8, 17.1, 6.3, 15.5,
    14.6, 3.3, 6.2, 16.2, 5.1, 14.3, 15.7, 2.7, 5.6, 14.4, 4.9, 15.9, -4.9, 2.4, -6.6,
    -6.7, 4.4, -3.8, 16.6, 5.6, 6.6, 15.1, 2.6, 14.6, 17.3, 4.0, 6.0, 14.8, 6.5, 15.3,
    16.0, 3.5, 5.7, -6.0, 2.5, -4.3, -4.2, 5.3, -6.8, -7.1, 1.9, -3.5, 14.5, 5.2, 6.3,
    16.9, 2.8, 14.9, -3.7, 4.6, 6.1, 15.2, 3.7, 15.7, 17.2, 6.0, 5.9, 14.7, 2.4, 14.4,
    16.3, 4.8, 6.4, -2.9, 5.1, 6.5, 15.0, 2.7, 14.7, 16.7, 5.4, 5.6, 14.4, 3.9, 15.8,
    17.4, 6.2, 6.1, -6.4, 2.3, -4.0, -4.6, 4.9, -6.3, 15.4, 3.2, 14.5, 17.0, 5.8, 6.6,
    14.6, 2.5, 15.4, 16.2, 4.3, 5.8, 15.1, 6.4, 14.2, -2.0, 6.3, 5.5, 16.6, 2.9, 15.1,
    14.8, 5.0, 6.2, 17.3, 3.5, 14.7, 15.6, 6.1, 5.7, -5.9, 2.6, -3.7, -4.1, 4.8, -6.6,
    16.4, 3.0, 6.5, 14.5, 5.5, 15.6, 17.1, 2.4, 5.9, 15.3, 4.6, 14.4, 16.0, 6.3, 6.3,
    14.7, 3.4, 15.3, -6.5, 2.1, -4.4, -4.4, 5.0, -7.0, -7.3, 3.3, -5.3, 16.8, 5.8, 6.0,
    14.6, 2.6, 14.9, -5.0, 3.8, -6.2, -6.8, 1.8, -3.8, 15.2, 4.5, 15.7, -2.6, 5.6, 6.8,
    16.5, 3.1, 14.3, 14.4, 5.7, 6.4, 17.2, 2.5, 15.5, 15.5, 4.8, 5.7, 16.1, 6.4, 14.6,
    14.9, 3.6, 6.2, 17.4, 5.3, 15.2, -4.3, 2.4, -6.1, -6.9, 4.6, -3.5, 15.0, 2.8, 6.6,
    16.7, 5.0, 14.4, -5.7, 3.4, -4.1, -4.0, 1.7, -6.7, -7.2, 5.2, -3.6, 14.6, 3.9, 15.3,
    16.4, 6.2, 5.9, 15.1, 2.6, 14.7, 17.0, 4.5, 6.3, -2.4, 5.8, 6.0, 14.8, 3.0, 15.6,
    16.6, 5.6, 5.6, 15.3, 2.4, 14.5, 17.2, 4.7, 6.5, 14.5, 6.4, 15.1, -6.2, 2.9, -4.0,
]

burn_in = 2000
x_ticks = [0, 2000, 4000, 6000, 8000, 10000, 12000]
y_ticks = [-20, -10, 0, 10, 20, 30, 40]
x_label = "Iteration"
y_label = "$x$"
legend_labels = ["Proposed moves", "Accepted path"]
burn_text = "Burn-in"

# ---------------- figure ----------------
path_iter = np.arange(len(accepted_path)) * path_step
prop_iter = np.concatenate([np.arange(len(proposed_moves_a)) * prop_step,
                            np.arange(len(proposed_moves_b)) * prop_step + 5,
                            np.arange(len(proposed_moves_c)) * prop_step + 3])
prop_vals = np.concatenate([proposed_moves_a, proposed_moves_b, proposed_moves_c])
order = np.argsort(prop_iter, kind='stable')

fig = plt.figure(figsize=(8.92, 5.69), dpi=100)
ax = fig.add_axes([80 / 892, 1 - 497 / 569, 775 / 892, 477 / 569])

gray = (0.8, 0.8, 0.8)
ax.plot(prop_iter[order], prop_vals[order], linestyle='none', marker='o', ms=4.6,
        mfc='none', mec=gray, mew=1.5, label=legend_labels[0], zorder=2)
ax.plot(path_iter, accepted_path, color='black', lw=2.0,
        label=legend_labels[1], zorder=3)

ax.axvspan(0, burn_in, color=(1, 0, 0), alpha=0.2, lw=0, zorder=4)
ax.text(burn_in / 2 + 30, 35.6, burn_text, color='red', fontsize=19,
        ha='center', va='center', zorder=5)

ax.set_xlim(0, 12000)
ax.set_ylim(-20, 40)
ax.set_xticks(x_ticks)
ax.set_yticks(y_ticks)
fmt = FuncFormatter(lambda v, p: f"{v:g}")
ax.xaxis.set_major_formatter(fmt)
ax.yaxis.set_major_formatter(fmt)

ax.grid(True, color=(0.15, 0.15, 0.15), alpha=0.12, lw=0.8)
ax.set_axisbelow(True)
edge = (0.15, 0.15, 0.15)
for s in ax.spines.values():
    s.set_color(edge)
    s.set_linewidth(0.8)
ax.tick_params(direction='in', top=True, right=True, length=5, width=0.8,
               color=edge, labelcolor=edge, labelsize=18.5, pad=5)
ax.set_xlabel(x_label, fontsize=21, color=edge, labelpad=9)
ax.set_ylabel(y_label, fontsize=21, color=edge, labelpad=7, rotation=90)

leg = ax.legend(loc='upper right', fontsize=18.5, frameon=True, fancybox=False,
                edgecolor=edge, framealpha=1, borderpad=0.2, handlelength=1.63,
                handletextpad=0.2, labelspacing=0.33, borderaxespad=0.38,
                markerscale=0.85)
leg.get_frame().set_linewidth(0.8)
leg.set_zorder(10)

fig.savefig("out.png", dpi=100)
